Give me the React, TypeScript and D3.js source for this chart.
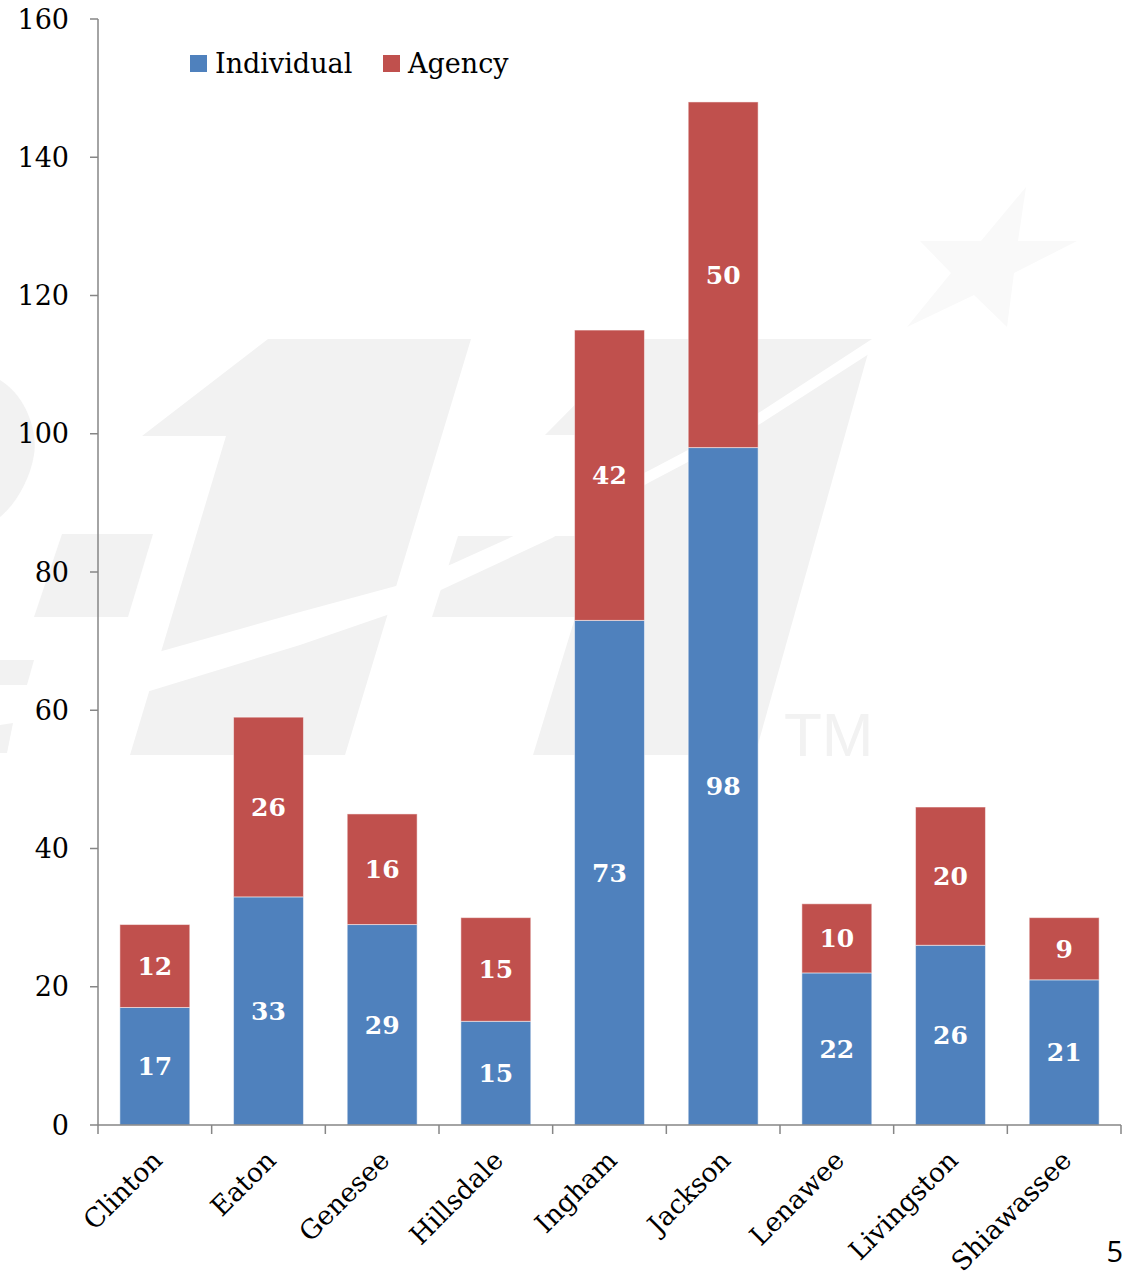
import React from "react";
import * as d3 from "d3";

const categories = ["Clinton", "Eaton", "Genesee", "Hillsdale", "Ingham", "Jackson", "Lenawee", "Livingston", "Shiawassee"];
const individual = [17, 33, 29, 15, 73, 98, 22, 26, 21];
const agency = [12, 26, 16, 15, 42, 50, 10, 20, 9];
const seriesNames = ["Individual", "Agency"];
const yTicks = [0, 20, 40, 60, 80, 100, 120, 140, 160];

const COLORS = ["#4F81BD", "#C0504D"];
const FONT = "'DejaVu Serif', 'Liberation Serif', serif";

// watermark shapes (decorative background)
const wmGray: [number, number][][] = [
  [[268, 339], [471, 339], [345, 755], [130, 755], [226, 436], [142, 436]],
  [[62, 534], [153, 534], [128, 617], [34, 617]],
  [[545, 435], [640, 339], [872, 339], [755, 755], [533, 755], [631, 435]],
  [[458, 536], [620, 536], [596, 617], [432, 617]],
  [[0, 660], [34, 660], [27, 685], [0, 685]],
  [[0, 725], [13, 723], [7, 753], [0, 753]],
];
const wmSwoosh: [number, number][] = [
  [130, 660], [300, 612], [396, 586], [452, 564], [560, 515], [650, 470], [760, 412], [872, 339],
  [886, 343], [760, 424], [650, 482], [552, 538], [443, 589], [387, 615], [300, 645], [130, 697],
];
const wmStar: [number, number][] = [
  [920, 241], [981, 241], [1026, 187], [1018, 241], [1077, 241], [1014, 273],
  [1007, 327], [974, 295], [907, 327], [951, 273],
];

export default function App() {
  const W = 1129, H = 1275;
  const x = d3.scaleBand<string>().domain(categories).range([98, 1121]).paddingInner(0.385).paddingOuter(0.1925);
  const y = d3.scaleLinear().domain([0, 160]).range([1125, 19]);
  const stack = d3.stack<any>().keys(seriesNames)(
    categories.map((c, i) => ({ cat: c, Individual: individual[i], Agency: agency[i] }))
  );
  const line = d3.line();
  const step = x.step();
  const boundaries = d3.range(categories.length + 1).map((i) => 98 + i * step);

  return (
    <svg width={W} height={H} style={{ position: "absolute", left: 0, top: 0, background: "#fff" }}>
      <rect x={0} y={0} width={W} height={H} fill="#fff" />
      <g>
        {wmGray.map((p, i) => (
          <path key={i} d={line(p)! + "Z"} fill="#f2f2f2" />
        ))}
        <path d="M0,380 C25,395 38,430 34,455 C30,480 15,505 0,517 Z" fill="#f2f2f2" />
        <path d={line(wmSwoosh)! + "Z"} fill="#fff" />
        <path d={line(wmStar)! + "Z"} fill="#f9f9f9" />
        <text x={784} y={756} fontFamily="'Liberation Sans', Arial, sans-serif" fontSize={62} fill="#f2f2f2">TM</text>
      </g>

      {stack.map((s, si) => (
        <g key={si} fill={COLORS[si]}>
          {s.map((d, i) => (
            <rect key={i} x={x(categories[i])!} y={y(d[1])} width={x.bandwidth()} height={y(d[0]) - y(d[1])}
              stroke="#ffffff" strokeOpacity={0.5} strokeWidth={1} />
          ))}
        </g>
      ))}
      {stack.map((s, si) => (
        <g key={"l" + si}>
          {s.map((d, i) => (
            <text key={i} x={x(categories[i])! + x.bandwidth() / 2} y={(y(d[0]) + y(d[1])) / 2} dy="0.36em"
              textAnchor="middle" fill="#fff" fontFamily={FONT} fontWeight="bold" fontSize={25}>
              {d[1] - d[0]}
            </text>
          ))}
        </g>
      ))}

      {/* y axis */}
      <line x1={98} x2={98} y1={y(160)} y2={y(0)} stroke="#868686" strokeWidth={1.5} />
      {yTicks.map((t) => (
        <g key={t}>
          <line x1={90} x2={98} y1={y(t)} y2={y(t)} stroke="#868686" strokeWidth={1.5} />
          <text x={69} y={y(t)} dy="0.36em" textAnchor="end" fontFamily={FONT} fontSize={27} fill="#000">{t}</text>
        </g>
      ))}

      {/* x axis */}
      <line x1={98} x2={1121} y1={y(0)} y2={y(0)} stroke="#868686" strokeWidth={1.5} />
      {boundaries.map((b, i) => (
        <line key={i} x1={b} x2={b} y1={y(0)} y2={y(0) + 9} stroke="#868686" strokeWidth={1.5} />
      ))}
      {categories.map((c) => {
        const cx = x(c)! + x.bandwidth() / 2 + 9;
        const cy = 1162;
        return (
          <text key={c} x={cx} y={cy} textAnchor="end" transform={`rotate(-45 ${cx} ${cy})`}
            fontFamily={FONT} fontSize={26.5} fill="#000">{c}</text>
        );
      })}

      {/* legend */}
      {seriesNames.map((n, i) => {
        const lx = [190, 383][i];
        return (
          <g key={n}>
            <rect x={lx} y={55} width={17} height={17} fill={COLORS[i]} />
            <text x={lx + 25} y={73} fontFamily={FONT} fontSize={27} fill="#000">{n}</text>
          </g>
        );
      })}

      <text x={1123} y={1262} textAnchor="end" fontFamily="'Open Sans', 'Liberation Sans', sans-serif" fontSize={29} fill="#000">5</text>
    </svg>
  );
}
